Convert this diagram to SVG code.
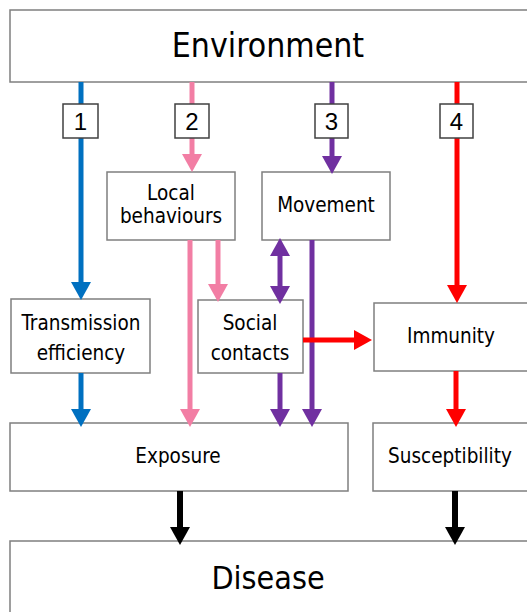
<svg xmlns="http://www.w3.org/2000/svg" width="527" height="612" viewBox="0 0 527 612">
<style>
.box{fill:#fff;stroke:#7f7f7f;stroke-width:1.5}
.nb{fill:#fff;stroke:#404040;stroke-width:1.5}
.t{font-family:"DejaVu Sans Condensed","DejaVu Sans",sans-serif;fill:#000;text-anchor:middle}
.s{font-size:20.5px}
.n{font-family:"Liberation Sans",Arial,sans-serif;font-size:24px;fill:#000;text-anchor:middle}
.c{fill:none;stroke-width:5}
.blue{stroke:#0070C0}.pink{stroke:#F27EA4}.purple{stroke:#7030A0}.red{stroke:#FF0000}.black{stroke:#000;stroke-width:6}
</style>
<defs>
<marker id="hb" markerUnits="userSpaceOnUse" markerWidth="18" markerHeight="20" viewBox="0 0 18 20" refX="1" refY="10" orient="auto"><path d="M0,0L18,10L0,20z" fill="#0070C0"/></marker>
<marker id="hp" markerUnits="userSpaceOnUse" markerWidth="18" markerHeight="20" viewBox="0 0 18 20" refX="1" refY="10" orient="auto"><path d="M0,0L18,10L0,20z" fill="#F27EA4"/></marker>
<marker id="hv" markerUnits="userSpaceOnUse" markerWidth="18" markerHeight="20" viewBox="0 0 18 20" refX="1" refY="10" orient="auto-start-reverse"><path d="M0,0L18,10L0,20z" fill="#7030A0"/></marker>
<marker id="hr" markerUnits="userSpaceOnUse" markerWidth="18" markerHeight="20" viewBox="0 0 18 20" refX="1" refY="10" orient="auto"><path d="M0,0L18,10L0,20z" fill="#FF0000"/></marker>
<marker id="hk" markerUnits="userSpaceOnUse" markerWidth="18" markerHeight="20" viewBox="0 0 18 20" refX="1" refY="10" orient="auto"><path d="M0,0L18,10L0,20z" fill="#000"/></marker>
</defs>

<g id="environment"><rect class="box" x="10" y="10" width="530" height="72"/><text class="t" x="268" y="57" font-size="33.5">Environment</text></g>
<g id="local-behaviours"><rect class="box" x="107" y="172" width="128" height="68"/><text class="t s" x="171" y="200">Local</text><text class="t s" x="171" y="223">behaviours</text></g>
<g id="movement"><rect class="box" x="262" y="172" width="128" height="68"/><text class="t s" x="326" y="212">Movement</text></g>
<g id="transmission-efficiency"><rect class="box" x="11" y="299" width="139" height="74"/><text class="t s" x="81" y="330">Transmission</text><text class="t s" x="81" y="360">efficiency</text></g>
<g id="social-contacts"><rect class="box" x="198" y="300" width="105" height="73"/><text class="t s" x="250" y="330">Social</text><text class="t s" x="250" y="360">contacts</text></g>
<g id="immunity"><rect class="box" x="374" y="303" width="170" height="68"/><text class="t s" x="451" y="343">Immunity</text></g>
<g id="exposure"><rect class="box" x="10" y="423" width="338" height="68"/><text class="t s" x="178" y="463">Exposure</text></g>
<g id="susceptibility"><rect class="box" x="373" y="423" width="170" height="68"/><text class="t s" x="450" y="463">Susceptibility</text></g>
<g id="disease"><rect class="box" x="10" y="541" width="530" height="80"/><text class="t" x="268" y="589" font-size="32">Disease</text></g>

<g id="connectors">
<line class="c blue" x1="81" y1="82" x2="81" y2="283" marker-end="url(#hb)"/>
<line class="c blue" x1="81" y1="373" x2="81" y2="410" marker-end="url(#hb)"/>
<line class="c pink" x1="192" y1="82" x2="192" y2="155" marker-end="url(#hp)"/>
<line class="c pink" x1="190" y1="240" x2="190" y2="410" marker-end="url(#hp)"/>
<line class="c pink" x1="218" y1="240" x2="218" y2="285" marker-end="url(#hp)"/>
<line class="c purple" x1="332" y1="82" x2="332" y2="157" marker-end="url(#hv)"/>
<line class="c purple" x1="280" y1="255" x2="280" y2="287" marker-start="url(#hv)" marker-end="url(#hv)"/>
<line class="c purple" x1="312" y1="240" x2="312" y2="410" marker-end="url(#hv)"/>
<line class="c purple" x1="280" y1="373" x2="280" y2="410" marker-end="url(#hv)"/>
<line class="c red" x1="457" y1="82" x2="457" y2="286" marker-end="url(#hr)"/>
<line class="c red" x1="303" y1="340" x2="355" y2="340" marker-end="url(#hr)"/>
<line class="c red" x1="456" y1="371" x2="456" y2="410" marker-end="url(#hr)"/>
<line class="c black" x1="180" y1="491" x2="180" y2="528" marker-end="url(#hk)"/>
<line class="c black" x1="455" y1="491" x2="455" y2="528" marker-end="url(#hk)"/>
</g>

<g id="label-1"><rect class="nb" x="63" y="104" width="35" height="34"/><text class="n" x="80.5" y="130">1</text></g>
<g id="label-2"><rect class="nb" x="175" y="104" width="34" height="34"/><text class="n" x="192" y="130">2</text></g>
<g id="label-3"><rect class="nb" x="315" y="104" width="33" height="34"/><text class="n" x="331.5" y="130">3</text></g>
<g id="label-4"><rect class="nb" x="440" y="104" width="33" height="34"/><text class="n" x="456.5" y="130">4</text></g>
</svg>
